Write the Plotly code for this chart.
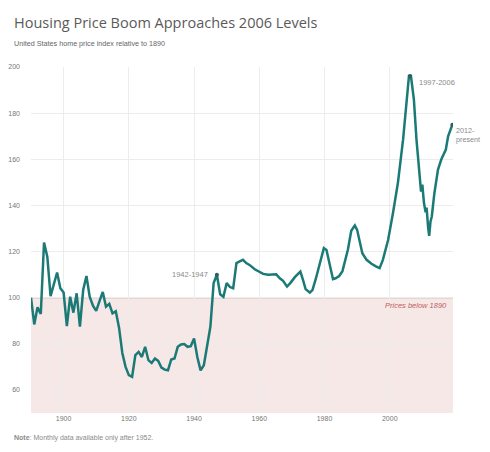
import plotly.graph_objects as go

# ---- data ----
years = [1890, 1891, 1892, 1893, 1894, 1895, 1896, 1897, 1898, 1899,
         1900, 1901, 1902, 1903, 1904, 1905, 1906, 1907, 1908, 1909,
         1910, 1911, 1912, 1913, 1914, 1915, 1916, 1917, 1918, 1919,
         1920, 1921, 1922, 1923, 1924, 1925, 1926, 1927, 1928, 1929,
         1930, 1931, 1932, 1933, 1934, 1935, 1936, 1937, 1938, 1939,
         1940, 1941, 1942, 1943, 1944, 1945, 1946, 1947, 1948, 1949,
         1950, 1951, 1952,
         1953.0, 1954.0, 1955.0, 1956.0, 1957.0, 1958.6, 1960.1, 1961.2,
         1962.7, 1964.2, 1965.2, 1966.3, 1967.3, 1968.5, 1969.5, 1970.9,
         1971.9, 1972.6, 1973.4, 1974.2, 1975.5, 1976.3, 1977.3, 1978.5,
         1979.8, 1980.6, 1981.4, 1982.6, 1983.4, 1984.5, 1985.5, 1986.2,
         1987.2, 1988.2, 1989.3, 1990.0, 1990.8, 1991.6, 1992.9, 1994.4,
         1995.9, 1996.9, 1997.9, 1999.5, 2001.0, 2002.5, 2004.1, 2005.1,
         2005.9, 2006.5, 2007.4, 2008.2, 2009.2, 2009.6, 2010.0, 2010.5,
         2011.0, 2011.3, 2011.8, 2012.1, 2012.5, 2012.9, 2013.7, 2014.8,
         2015.8, 2017.2, 2017.9, 2018.7, 2019.2]
index = [100.0, 88.4, 95.8, 92.9, 123.9, 117.8, 100.7, 106.3, 110.9, 104.1,
         102.2, 87.7, 100.4, 93.5, 101.9, 87.4, 103.3, 109.4, 100.4, 96.5,
         94.3, 98.5, 102.5, 96.1, 97.3, 93.2, 94.1, 87.0, 76.0, 70.0,
         66.4, 65.7, 75.1, 76.5, 74.3, 78.7, 72.9, 71.7, 73.6, 72.6,
         69.7, 68.8, 68.5, 73.2, 73.6, 78.7, 79.7, 79.9, 78.7, 79.0,
         82.3, 74.3, 68.5, 70.7, 78.7, 87.4, 106.3, 109.9, 101.5, 100.4,
         106.3, 104.6, 104.1,
         115.0, 115.7, 116.4, 115.0, 114.2, 112.3, 111.3, 110.3,
         109.9, 109.9, 110.1, 108.4, 107.3, 104.8, 106.3, 108.9,
         110.6, 111.3, 107.7, 103.7, 102.2, 103.3, 108.0, 115.0,
         121.5, 120.7, 115.0, 108.0, 108.4, 109.4, 111.5, 115.0,
         121.0, 129.0, 131.3, 129.4, 124.3, 119.3, 116.4, 114.7,
         113.5, 112.8, 116.4, 125.0, 136.7, 149.7, 168.6, 183.0,
         196.1, 196.1, 186.0, 168.6, 149.7, 146.0, 149.0, 141.0,
         137.0, 139.0, 130.0, 126.8, 133.0, 135.2, 145.4, 155.5,
         159.9, 164.2, 170.0, 173.7, 175.0]

marker_years = [1947, 2006.2, 2019.2]
marker_vals = [109.9, 196.1, 175.0]

x_ticks = [1900, 1920, 1940, 1960, 1980, 2000]
y_ticks = [60, 80, 100, 120, 140, 160, 180, 200]

X_MIN, X_MAX = 1890, 2019.4
Y_MIN, Y_MAX = 50, 200
BASE = 100

TEAL = "#1b7a76"
GREY_TXT = "#8a8a8a"

fig = go.Figure()
fig.add_trace(go.Scatter(x=years, y=index, mode="lines",
                         line=dict(color=TEAL, width=2.5),
                         hoverinfo="skip", showlegend=False))
fig.add_trace(go.Scatter(x=marker_years, y=marker_vals, mode="markers",
                         marker=dict(color="#2f5f5c", size=4),
                         hoverinfo="skip", showlegend=False))

# shaded region below 1890 level
fig.add_shape(type="rect", xref="x", yref="y", x0=X_MIN, x1=X_MAX,
              y0=Y_MIN, y1=BASE, fillcolor="#f6e8e7", line_width=0,
              layer="below")
fig.add_shape(type="line", xref="x", yref="y", x0=X_MIN, x1=X_MAX,
              y0=BASE, y1=BASE, line=dict(color="#8f8280", width=1),
              layer="below")

ann = []
ann.append(dict(text="Housing Price Boom Approaches 2006 Levels",
                xref="paper", yref="paper", x=-0.045, y=1.130,
                xanchor="left", yanchor="middle", showarrow=False,
                font=dict(family="Open Sans", size=14.5, color="#5a5a5a")))
ann.append(dict(text="United States home price index relative to 1890",
                xref="paper", yref="paper", x=-0.045, y=1.0665,
                xanchor="left", yanchor="middle", showarrow=False,
                font=dict(family="Liberation Sans", size=7.2, color="#666666")))
ann.append(dict(text="<b>Note</b>: Monthly data available only after 1952.",
                xref="paper", yref="paper", x=-0.045, y=-0.0723,
                xanchor="left", yanchor="middle", showarrow=False,
                font=dict(family="Liberation Sans", size=7, color="#8a8a8a")))
ann.append(dict(text="<i>Prices below 1890</i>",
                xref="paper", yref="y", x=0.9905, y=96.4,
                xanchor="right", yanchor="middle", showarrow=False,
                font=dict(family="Liberation Sans", size=7.5, color="#c0605a")))
ann.append(dict(text="1997-2006", xref="x", yref="y", x=2008.5, y=193.2,
                xanchor="left", yanchor="middle", showarrow=False,
                font=dict(family="Liberation Sans", size=7.5, color=GREY_TXT)))
ann.append(dict(text="2012-<br>present", xref="paper", yref="y", x=1.004, y=170.5,
                xanchor="left", yanchor="middle", showarrow=False, align="left",
                borderpad=0,
                font=dict(family="Liberation Sans", size=7.2, color=GREY_TXT)))
ann.append(dict(text="1942-1947", xref="x", yref="y", x=1945.0, y=110.2,
                xanchor="right", yanchor="middle", showarrow=False,
                font=dict(family="Liberation Sans", size=7.5, color=GREY_TXT)))

# page body has an 8px margin, so the figure is kept 8px smaller than the window
fig.update_layout(
    width=482, height=444,
    margin=dict(l=23, r=37, t=59, b=39, autoexpand=False),
    paper_bgcolor="white", plot_bgcolor="white",
    annotations=ann,
    xaxis=dict(range=[X_MIN, X_MAX], tickvals=x_ticks, automargin=False,
               showgrid=True, gridcolor="#ececec", gridwidth=1,
               zeroline=False, showline=False, ticks="",
               tickfont=dict(family="Liberation Sans", size=7, color="#777777")),
    yaxis=dict(range=[Y_MIN, Y_MAX], tickvals=y_ticks, automargin=False,
               showgrid=True, gridcolor="#ececec", gridwidth=1,
               zeroline=False, showline=False, ticks="",
               ticklabelstandoff=10,
               tickfont=dict(family="Liberation Sans", size=7, color="#777777")),
)

fig.write_html("out.html")
